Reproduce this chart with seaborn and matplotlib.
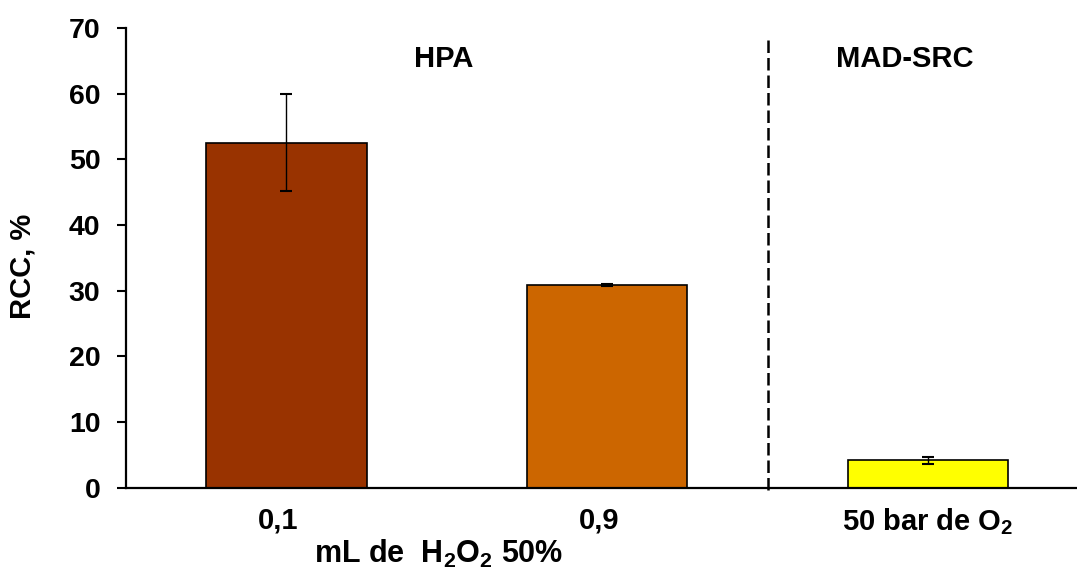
import matplotlib
matplotlib.use("Agg")
import matplotlib.pyplot as plt
import matplotlib.transforms as mtransforms
import seaborn as sns

# ---- data ----
categories = ["0,1", "0,9", "50 bar de O$_2$"]
rcc_values = [52.55, 30.85, 4.15]
rcc_errors = [7.35, 0.15, 0.53]
bar_colors = ["#993300", "#CC6600", "#FFFF00"]
group_labels = ["HPA", "MAD-SRC"]
y_ticks = [0, 10, 20, 30, 40, 50, 60, 70]

sns.set_theme(style="white")
plt.rcParams["font.family"] = ["Liberation Sans", "DejaVu Sans"]
plt.rcParams["font.weight"] = "bold"
plt.rcParams["mathtext.fontset"] = "custom"
plt.rcParams["mathtext.rm"] = "Liberation Sans:bold"
plt.rcParams["mathtext.it"] = "Liberation Sans:bold"
plt.rcParams["mathtext.bf"] = "Liberation Sans:bold"
plt.rcParams["mathtext.default"] = "rm"

fig = plt.figure(figsize=(10.77, 5.69), dpi=100)
ax = fig.add_axes([126 / 1077, (569 - 487.5) / 569, (1077 - 126) / 1077, (487.5 - 28) / 569])

sns.barplot(x=categories, y=rcc_values, hue=categories, palette=bar_colors,
            width=0.5, edgecolor="black", linewidth=1.2, legend=False,
            saturation=1, ax=ax)
xpos = list(range(len(categories)))
ax.errorbar(xpos, rcc_values, yerr=rcc_errors, fmt="none", ecolor="black",
            elinewidth=1.0, capsize=4.5, capthick=1.5, zorder=5)

ax.set_xlim(-0.5, (1077 - 286) / 321)
ax.set_ylim(0, 70)
ax.set_yticks(y_ticks)
ax.set_yticklabels([str(t) for t in y_ticks], fontsize=20.5, fontweight="bold")
ax.set_xticks(xpos)
ax.set_xticklabels(categories, fontsize=21, fontweight="bold")

for side in ["top", "right"]:
    ax.spines[side].set_visible(False)
for side in ["left", "bottom"]:
    ax.spines[side].set_color("black")
    ax.spines[side].set_linewidth(1.6)

ax.tick_params(axis="y", which="both", left=True, length=6.5, width=1.5,
               pad=12, colors="black", direction="out")
ax.tick_params(axis="x", which="both", bottom=False, length=0, pad=13.5, colors="black")

# shift first two tick labels slightly left as in the reference
for lbl in ax.get_xticklabels()[:2]:
    lbl.set_transform(lbl.get_transform() +
                      mtransforms.ScaledTranslation(-8 / 100, 0, fig.dpi_scale_trans))

ax.set_ylabel("RCC, %", fontsize=21, fontweight="bold", color="black")
ax.yaxis.set_label_coords(-0.0936, 0.482)
ax.set_xlabel("")
ax.text(0.3286, -0.1635, "mL de  H$_2$O$_2$ 50%", transform=ax.transAxes,
        ha="center", va="baseline", fontsize=22, fontweight="bold", color="black")

# divider between groups
divider_x = 1.5
ax.plot([divider_x, divider_x], [68.2, -0.7], color="black", lw=1.8,
        dashes=(5, 2), clip_on=False, zorder=6)

ax.text(0.489, 65.3, group_labels[0], ha="center", va="center",
        fontsize=21, fontweight="bold", color="black")
ax.text(1.928, 65.3, group_labels[1], ha="center", va="center",
        fontsize=21, fontweight="bold", color="black")

ax.grid(False)
fig.savefig("out.png", dpi=100)
